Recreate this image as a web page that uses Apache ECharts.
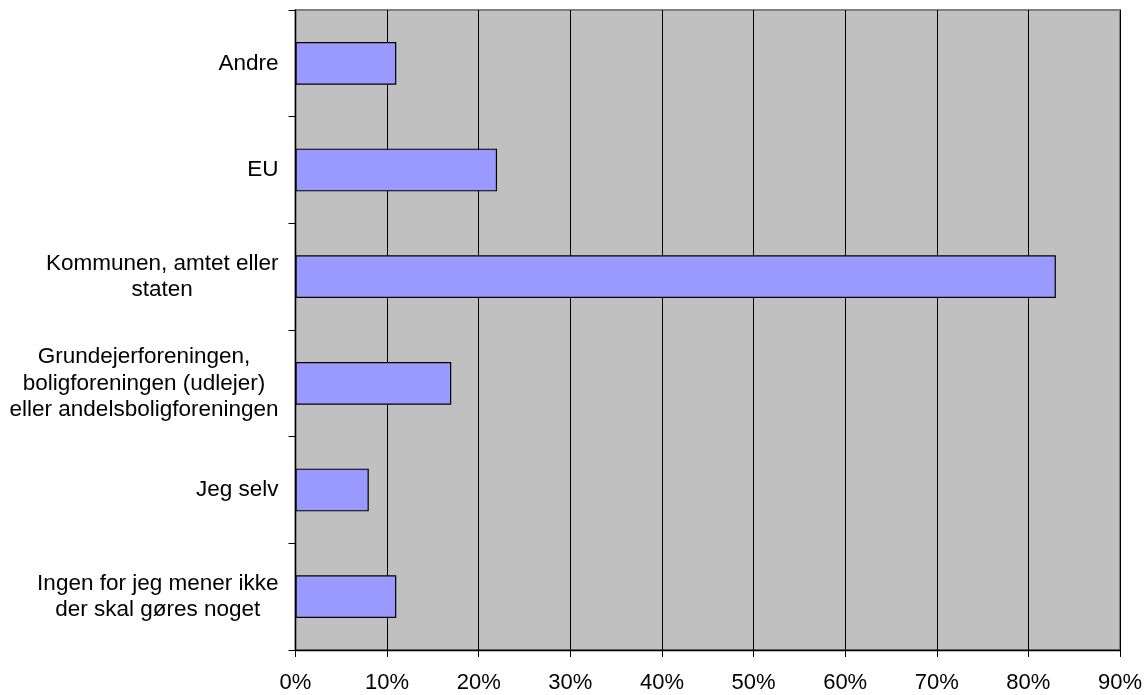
<!DOCTYPE html>
<html>
<head>
<meta charset="utf-8">
<title>Hvem skal gøre noget</title>
<script src="https://cdn.jsdelivr.net/npm/echarts@6/dist/echarts.min.js"></script>
<style>
  html, body { margin: 0; padding: 0; background: #ffffff; }
  #chart { width: 1145px; height: 695px; }
</style>
</head>
<body>
<div id="chart"></div>
<script>
// Answer categories, listed top to bottom
const categories = [
  'Andre',
  'EU',
  'Kommunen, amtet eller\nstaten',
  'Grundejerforeningen,\nboligforeningen (udlejer)\neller andelsboligforeningen',
  'Jeg selv',
  'Ingen for jeg mener ikke\nder skal gøres noget'
];

// Share of respondents (%)
const shares = [11, 22, 83, 17, 8, 11];

// Percentage axis range
const axisMin = 0;
const axisMax = 90;
const axisStep = 10;

const FONT = '"Liberation Sans", Arial, sans-serif';
const Y_FONT_SIZE = 22.5;
const X_FONT_SIZE = 22;

const chart = echarts.init(document.getElementById('chart'), null, { renderer: 'canvas' });

chart.setOption({
  backgroundColor: '#ffffff',
  animation: false,
  grid: {
    left: 295.5,
    right: 25,
    top: 10,
    bottom: 45,
    show: true,
    backgroundColor: '#c0c0c0',
    borderColor: '#808080',
    borderWidth: 2
  },
  xAxis: {
    type: 'value',
    min: axisMin,
    max: axisMax,
    interval: axisStep,
    axisLine: { show: true, onZero: false, lineStyle: { color: '#000000', width: 1.3 } },
    axisTick: { show: true, length: 7, lineStyle: { color: '#000000', width: 1 } },
    axisLabel: {
      margin: 22,
      color: '#000000',
      fontFamily: FONT,
      fontSize: X_FONT_SIZE,
      formatter: '{value}%'
    },
    splitLine: { show: true, lineStyle: { color: '#000000', width: 1 } }
  },
  yAxis: {
    type: 'category',
    inverse: true,
    data: categories,
    axisLine: { show: true, lineStyle: { color: '#000000', width: 1.3 } },
    axisTick: { show: true, length: 7, alignWithLabel: false, lineStyle: { color: '#000000', width: 1 } },
    axisLabel: {
      margin: 17,
      align: 'right',
      color: '#000000',
      fontFamily: FONT,
      fontSize: Y_FONT_SIZE,
      lineHeight: 27,
      interval: 0,
      // each line centred inside the right-aligned label block
      formatter: function (val) {
        return val.split('\n').map(function (l) { return '{c|' + l + '}'; }).join('\n');
      },
      rich: {
        c: {
          align: 'center',
          color: '#000000',
          fontFamily: FONT,
          fontSize: Y_FONT_SIZE,
          lineHeight: 26.5
        }
      }
    },
    splitLine: { show: false }
  },
  series: [{
    type: 'bar',
    data: shares,
    barWidth: '40%',
    itemStyle: {
      color: '#9999ff',
      borderColor: '#000000',
      borderWidth: 1.2
    },
    emphasis: { disabled: true }
  }]
});
</script>
</body>
</html>
